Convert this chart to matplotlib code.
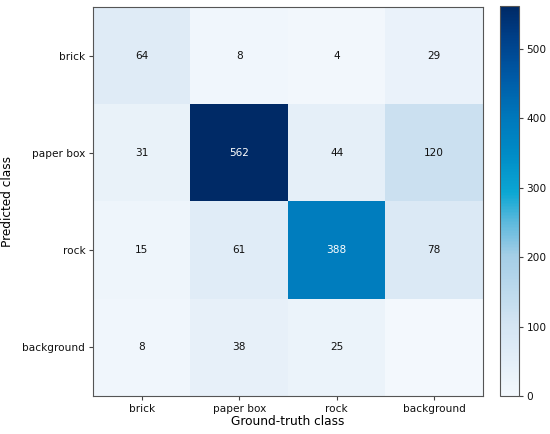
import matplotlib
matplotlib.use("Agg")
import matplotlib.pyplot as plt
from matplotlib.colors import LinearSegmentedColormap
import numpy as np

classes = ["brick", "paper box", "rock", "background"]
row_brick = [64, 8, 4, 29]
row_paper = [31, 562, 44, 120]
row_rock = [15, 61, 388, 78]
row_background = [8, 38, 25, 0]
blank_cells = [(3, 3)]

cm = np.array([row_brick, row_paper, row_rock, row_background])

cmap = LinearSegmentedColormap.from_list("refblues", [
    (0.00, "#f3f8fd"),
    (0.18, "#d4e5f3"),
    (0.36, "#a4cee6"),
    (0.45, "#58b8dc"),
    (0.52, "#0ca7d4"),
    (0.62, "#008cc6"),
    (0.71, "#0079bc"),
    (0.82, "#005aa6"),
    (0.92, "#003f88"),
    (1.00, "#002a66"),
])

W, H = 550, 434
fig = plt.figure(figsize=(W / 100, H / 100), dpi=100)
ax = fig.add_axes([93 / W, 1 - 396 / H, 390 / W, 389 / H])
cax = fig.add_axes([500 / W, 1 - 396 / H, 19 / W, 390 / H])

im = ax.imshow(cm, cmap=cmap, aspect="auto", vmin=0, vmax=cm.max(), interpolation="nearest")
thresh = cm.max() / 2
for i in range(cm.shape[0]):
    for j in range(cm.shape[1]):
        if (i, j) in blank_cells:
            continue
        ax.text(j, i, str(cm[i, j]), ha="center", va="center", fontsize=7.6,
                color="white" if cm[i, j] > thresh else "#111111")

ax.set_xticks(range(len(classes)))
ax.set_xticklabels(classes, fontsize=7.6)
ax.set_yticks(range(len(classes)))
ax.set_yticklabels(classes, fontsize=7.6)
ax.tick_params(length=3, pad=2.5, color="#444444", labelcolor="#111111")
ax.set_xlabel("Ground-truth class", fontsize=8.7, labelpad=1)
ax.set_ylabel("Predicted class", fontsize=8.7, labelpad=6)
for s in ax.spines.values():
    s.set_color("#555555")

cb = fig.colorbar(im, cax=cax)
cb.set_ticks([0, 100, 200, 300, 400, 500])
cb.ax.tick_params(labelsize=7.6, length=3, pad=2.5, color="#444444", labelcolor="#111111")
cb.outline.set_edgecolor("#555555")

fig.savefig("out.png", dpi=100)
